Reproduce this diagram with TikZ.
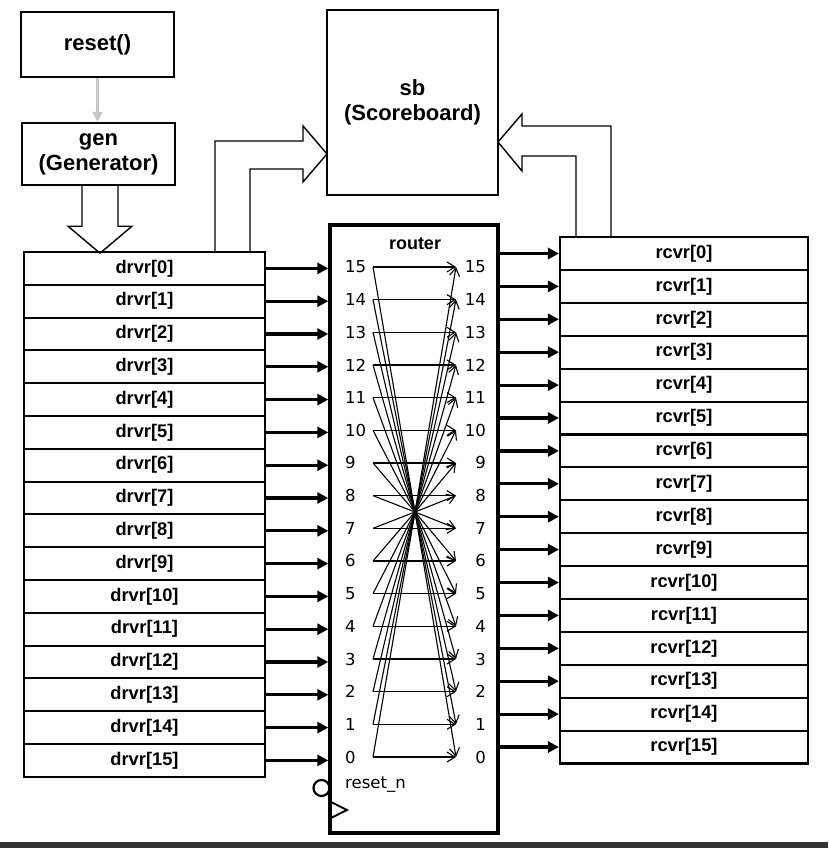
\documentclass[tikz,border=0pt]{standalone}
\usepackage{fontspec}
\setmainfont{Liberation Sans}
\newfontfamily\portfont{DejaVu Sans}
\usetikzlibrary{arrows.meta}
\begin{document}
\begin{tikzpicture}[x=1pt,y=-1pt,
  box/.style={draw, line width=2.4pt, inner sep=0pt, align=center, font=\fontsize{22}{25}\selectfont\bfseries},
  rowbox/.style={draw, line width=2.1pt, inner sep=0pt, minimum height=32.8pt, font=\fontsize{18.3}{20}\selectfont\bfseries},
  portlbl/.style={font=\portfont\fontsize{16.5}{18}\selectfont, inner sep=0pt},
  bus/.style={line width=3.2pt, -{Triangle[length=11pt,width=11pt]}},
  xarr/.style={line width=1.1pt, -{Straight Barb[length=8pt,width=10pt]}},
  xline/.style={line width=1.1pt},
  hollow/.style={line width=1.4pt, line join=miter}
]
\useasboundingbox (0,0) rectangle (828,848);
\fill[white] (0,0) rectangle (828,848);
\fill[black!80] (0,842) rectangle (828,848);

% top boxes
\node[box, minimum width=153pt, minimum height=65pt] (reset) at (97.5,44.5) {reset()};
\node[box, minimum width=153pt, minimum height=62pt] (gen) at (98.5,154) {gen\\(Generator)};
\node[box, minimum width=171pt, minimum height=185pt] (sb) at (412.5,102.5) {sb\\(Scoreboard)};

% router
\node[draw, line width=3.4pt, minimum width=168pt, minimum height=608pt, inner sep=0pt] (router) at (414,529) {};
\node[font=\fontsize{18}{20}\selectfont\bfseries, inner sep=0pt] (rtitle) at (415,244) {router};

% drivers and receivers
\foreach \i in {0,...,15} {
  \node[rowbox, minimum width=241pt] (drv\i) at (144.5,{268.4+32.8*\i}) {drvr[\i]};
  \node[rowbox, minimum width=248pt, minimum height=32.9pt] (rcv\i) at (684,{253.5+32.9*\i}) {rcvr[\i]};
}
\foreach \i in {0,...,15} {
  \draw[bus] (drv\i.east) -- (drv\i.east -| router.west);
  \draw[bus] (rcv\i.west -| router.east) -- (rcv\i.west);
}

% crossbar inside router
\coordinate (C) at (415,512);
\foreach \k in {0,...,15} {
  \coordinate (L\k) at (373,{757-32.67*\k});
  \coordinate (R\k) at (456,{757-32.67*\k});
  \node[portlbl, anchor=west] (pl\k) at (345,{757-32.67*\k}) {\k};
  \node[portlbl, anchor=east] (pr\k) at (486,{757-32.67*\k}) {\k};
}
\foreach \k in {0,...,15} {
  \draw[xline] (L\k) -- (C);
  \draw[xarr] (C) -- (R\k);
  \draw[xarr] (L\k) -- (R\k);
}

% reset_n bubble and clock
\node[portlbl, anchor=base west] (rstn) at (345,788) {reset\_n};
\node[circle, draw, line width=2.2pt, minimum size=16pt, inner sep=0pt] (bubble) at (321.5,788) {};
\draw[line width=1.9pt] (331,802) -- (347,810) -- (331,818);

% reset -> gen
\draw[line width=3pt, black!22, -{Triangle[length=10pt,width=10pt]}] (reset.south) -- (reset.south |- gen.north);

% gen -> drivers hollow arrow
\draw[hollow] ([xshift=-16.5pt]gen.south) -- ++(0,40) -- ++(-14,0) -- ++(32,27) -- ++(32,-27) -- ++(-14,0) -- ++(0,-40);

% drivers -> sb hollow arrow
\draw[hollow] ([xshift=70.5pt]drv0.north) -- ++(0,-110) -- ++(88,0) -- ++(0,-15) -- ++(24,28) -- ++(-24,28) -- ++(0,-13) -- ++(-53,0) -- ++(0,82);

% receivers -> sb hollow arrow
\draw[hollow] ([xshift=-108pt]rcv0.north) -- ++(0,-80) -- ++(-54,0) -- ++(0,15) -- ++(-24,-29) -- ++(24,-28) -- ++(0,12) -- ++(89,0) -- ++(0,110);
\end{tikzpicture}
\end{document}
